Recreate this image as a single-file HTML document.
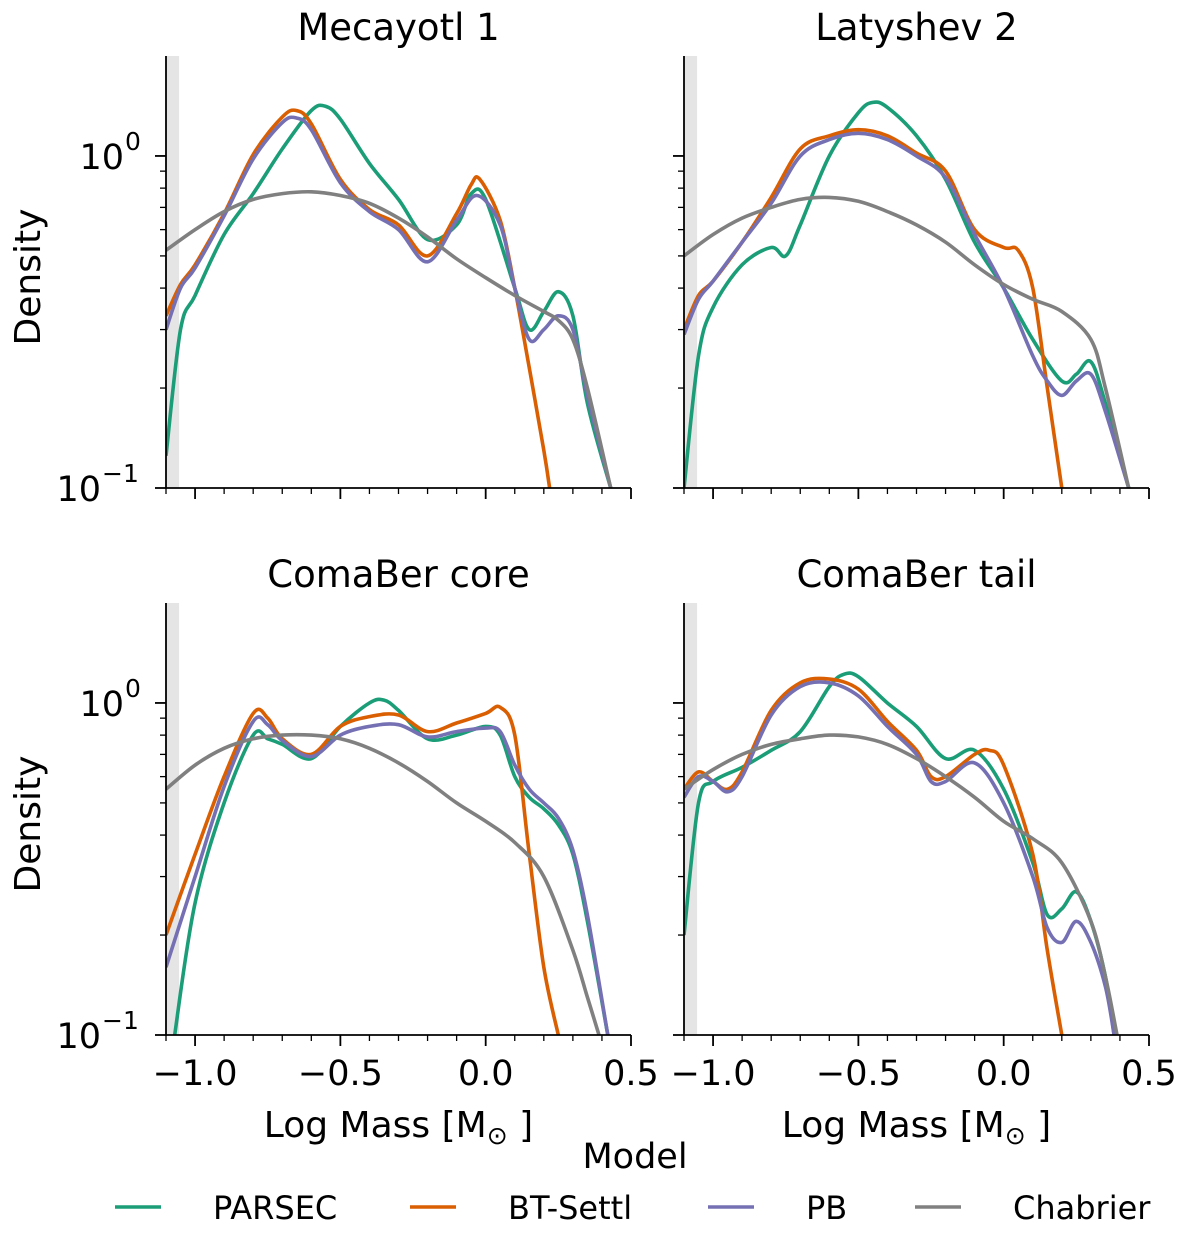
<!DOCTYPE html>
<html><head><meta charset="utf-8"><style>
body{margin:0;background:#fff}
svg text{font-family:"DejaVu Sans","Liberation Sans",sans-serif;fill:#000}
</style></head><body>
<svg id="fig" width="1200" height="1228" viewBox="0 0 1200 1228" xmlns="http://www.w3.org/2000/svg"></svg>
<script>
const panelTitles = ["Mecayotl 1","Latyshev 2","ComaBer core","ComaBer tail"];
const seriesNames = ["PARSEC","BT-Settl","PB","Chabrier"];
const seriesColors = ["#1b9e77","#d95f02","#7570b3","#808080"];
const xTickValues = [-1.0,-0.5,0.0,0.5];
const xTickLabels = ["\u22121.0","\u22120.5","0.0","0.5"];
// panel 0: Mecayotl 1
const p0x_parsec = [-1.1,-1.05,-1.0,-0.9,-0.8,-0.7,-0.6,-0.55,-0.5,-0.4,-0.3,-0.2,-0.1,-0.05,0.0,0.1,0.15,0.2,0.25,0.3,0.35,0.43];
const p0y_parsec = [0.125,0.30,0.38,0.58,0.77,1.05,1.37,1.41,1.29,0.95,0.74,0.56,0.62,0.77,0.74,0.40,0.30,0.34,0.39,0.33,0.18,0.1];
const p0x_bt = [-1.1,-1.05,-1.0,-0.9,-0.8,-0.7,-0.65,-0.6,-0.5,-0.4,-0.3,-0.2,-0.1,-0.05,-0.02,0.05,0.1,0.15,0.2,0.22];
const p0y_bt = [0.33,0.41,0.47,0.67,1.01,1.31,1.37,1.25,0.85,0.69,0.62,0.50,0.67,0.82,0.85,0.64,0.40,0.23,0.13,0.1];
const p0x_pb = [-1.1,-1.05,-1.0,-0.9,-0.8,-0.7,-0.65,-0.6,-0.5,-0.4,-0.3,-0.2,-0.1,-0.03,0.05,0.1,0.15,0.2,0.25,0.3,0.35,0.43];
const p0y_pb = [0.30,0.40,0.46,0.66,0.98,1.26,1.30,1.20,0.83,0.68,0.60,0.48,0.64,0.76,0.62,0.40,0.28,0.30,0.33,0.30,0.19,0.1];
const p0x_ch = [-1.1,-1.0,-0.9,-0.8,-0.7,-0.6,-0.5,-0.4,-0.3,-0.2,-0.1,0.0,0.1,0.2,0.25,0.3,0.35,0.43];
const p0y_ch = [0.52,0.60,0.68,0.74,0.77,0.78,0.76,0.72,0.65,0.57,0.49,0.43,0.38,0.34,0.32,0.28,0.20,0.1];
// panel 1: Latyshev 2
const p1x_parsec = [-1.1,-1.05,-1.0,-0.9,-0.8,-0.75,-0.7,-0.6,-0.5,-0.45,-0.4,-0.3,-0.2,-0.1,0.0,0.1,0.2,0.25,0.3,0.35,0.43];
const p1y_parsec = [0.1,0.25,0.35,0.47,0.53,0.50,0.62,1.0,1.35,1.45,1.40,1.15,0.85,0.55,0.40,0.28,0.21,0.22,0.24,0.18,0.1];
const p1x_bt = [-1.1,-1.05,-1.0,-0.9,-0.8,-0.7,-0.6,-0.5,-0.4,-0.3,-0.2,-0.1,0.0,0.05,0.1,0.15,0.2];
const p1y_bt = [0.30,0.38,0.42,0.55,0.75,1.05,1.15,1.20,1.15,1.02,0.90,0.60,0.53,0.52,0.40,0.2,0.1];
const p1x_pb = [-1.1,-1.05,-1.0,-0.9,-0.8,-0.7,-0.6,-0.5,-0.4,-0.3,-0.2,-0.1,0.0,0.1,0.15,0.2,0.25,0.3,0.35,0.43];
const p1y_pb = [0.29,0.37,0.42,0.55,0.72,1.0,1.12,1.17,1.12,1.0,0.86,0.58,0.40,0.25,0.21,0.19,0.21,0.22,0.17,0.1];
const p1x_ch = [-1.1,-1.0,-0.9,-0.8,-0.7,-0.6,-0.5,-0.4,-0.3,-0.2,-0.1,0.0,0.1,0.2,0.3,0.35,0.43];
const p1y_ch = [0.50,0.58,0.65,0.70,0.74,0.75,0.73,0.68,0.62,0.55,0.47,0.41,0.37,0.34,0.28,0.20,0.1];
// panel 2: ComaBer core
const p2x_parsec = [-1.1,-1.07,-1.0,-0.9,-0.8,-0.75,-0.7,-0.6,-0.5,-0.4,-0.35,-0.3,-0.2,-0.1,0.0,0.05,0.1,0.15,0.2,0.25,0.3,0.35,0.42];
const p2y_parsec = [0.06,0.1,0.25,0.5,0.80,0.78,0.75,0.68,0.85,1.0,1.02,0.95,0.78,0.80,0.85,0.80,0.60,0.52,0.48,0.43,0.35,0.22,0.1];
const p2x_bt = [-1.1,-1.0,-0.9,-0.8,-0.75,-0.7,-0.6,-0.5,-0.4,-0.3,-0.2,-0.1,0.0,0.05,0.1,0.15,0.2,0.25];
const p2y_bt = [0.2,0.35,0.60,0.93,0.90,0.78,0.70,0.85,0.91,0.92,0.82,0.87,0.93,0.97,0.80,0.35,0.16,0.1];
const p2x_pb = [-1.1,-1.0,-0.9,-0.8,-0.75,-0.7,-0.6,-0.5,-0.4,-0.3,-0.2,-0.1,0.0,0.05,0.1,0.15,0.2,0.25,0.3,0.35,0.42];
const p2y_pb = [0.16,0.30,0.56,0.88,0.86,0.77,0.69,0.80,0.85,0.86,0.79,0.82,0.84,0.82,0.65,0.55,0.50,0.45,0.36,0.23,0.1];
const p2x_ch = [-1.1,-1.0,-0.9,-0.8,-0.7,-0.6,-0.5,-0.4,-0.3,-0.2,-0.1,0.0,0.1,0.2,0.3,0.35,0.39];
const p2y_ch = [0.55,0.65,0.73,0.78,0.80,0.80,0.78,0.73,0.66,0.58,0.50,0.44,0.38,0.30,0.18,0.13,0.1];
// panel 3: ComaBer tail
const p3x_parsec = [-1.1,-1.05,-1.0,-0.9,-0.8,-0.7,-0.6,-0.55,-0.5,-0.4,-0.3,-0.2,-0.1,0.0,0.1,0.15,0.2,0.25,0.3,0.35,0.38];
const p3y_parsec = [0.2,0.5,0.58,0.64,0.72,0.82,1.12,1.22,1.2,1.0,0.85,0.68,0.72,0.55,0.33,0.23,0.24,0.27,0.22,0.15,0.1];
const p3x_bt = [-1.1,-1.05,-1.0,-0.95,-0.9,-0.8,-0.7,-0.6,-0.5,-0.4,-0.3,-0.25,-0.2,-0.1,-0.05,0.0,0.1,0.15,0.2];
const p3y_bt = [0.55,0.62,0.58,0.55,0.62,0.95,1.15,1.18,1.1,0.88,0.72,0.60,0.60,0.70,0.72,0.65,0.35,0.18,0.1];
const p3x_pb = [-1.1,-1.05,-1.0,-0.95,-0.9,-0.8,-0.7,-0.6,-0.5,-0.4,-0.3,-0.25,-0.2,-0.1,0.0,0.1,0.15,0.2,0.25,0.3,0.35,0.38];
const p3y_pb = [0.52,0.6,0.58,0.54,0.6,0.92,1.12,1.15,1.05,0.85,0.70,0.58,0.58,0.66,0.50,0.30,0.21,0.19,0.22,0.19,0.14,0.1];
const p3x_ch = [-1.1,-1.0,-0.9,-0.8,-0.7,-0.6,-0.5,-0.4,-0.3,-0.2,-0.1,0.0,0.1,0.2,0.3,0.35,0.39];
const p3y_ch = [0.55,0.63,0.70,0.75,0.78,0.80,0.79,0.75,0.68,0.60,0.52,0.44,0.39,0.33,0.22,0.15,0.1];

const panelSeries = [
 [[p0x_parsec,p0y_parsec],[p0x_bt,p0y_bt],[p0x_pb,p0y_pb],[p0x_ch,p0y_ch]],
 [[p1x_parsec,p1y_parsec],[p1x_bt,p1y_bt],[p1x_pb,p1y_pb],[p1x_ch,p1y_ch]],
 [[p2x_parsec,p2y_parsec],[p2x_bt,p2y_bt],[p2x_pb,p2y_pb],[p2x_ch,p2y_ch]],
 [[p3x_parsec,p3y_parsec],[p3x_bt,p3y_bt],[p3x_pb,p3y_pb],[p3x_ch,p3y_ch]]
];

const NS="http://www.w3.org/2000/svg";
const svg=document.getElementById('fig');
function mk(tag,attrs,parent){const e=document.createElementNS(NS,tag);for(const k in attrs)e.setAttribute(k,attrs[k]);(parent||svg).appendChild(e);return e;}
const XMIN=-1.1,XMAX=0.5,YMIN=0.1,YMAX=2.0;
const boxes=[{l:166,r:631,t:56,b:488},{l:684,r:1149,t:56,b:488},{l:166,r:631,t:603,b:1035},{l:684,r:1149,t:603,b:1035}];

boxes.forEach((B,pi)=>{
  const g=mk('g',{});
  
  
  const sx=v=>B.l+(v-XMIN)/(XMAX-XMIN)*(B.r-B.l);
  const sy=v=>B.b-(Math.log10(v)-Math.log10(YMIN))/(Math.log10(YMAX)-Math.log10(YMIN))*(B.b-B.t);
  const cid='clip'+pi;
  const cp=mk('clipPath',{id:cid},g);mk('rect',{x:B.l,y:B.t,width:B.r-B.l,height:B.b-B.t},cp);
  const band=mk('rect',{x:sx(-1.1),y:B.t,width:sx(-1.055)-sx(-1.1),height:B.b-B.t,fill:'#e5e5e5'},g);
  
  
  panelSeries[pi].forEach((s,si)=>{
    const xs=s[0],ys=s[1];
    const P=xs.map((x,i)=>[sx(x),sy(ys[i])]);
    let d='M'+P[0][0].toFixed(1)+','+P[0][1].toFixed(1);
    for(let i=0;i<P.length-1;i++){
      const p0=P[Math.max(0,i-1)],p1=P[i],p2=P[i+1],p3=P[Math.min(P.length-1,i+2)];
      const c1=[p1[0]+(p2[0]-p0[0])/6,p1[1]+(p2[1]-p0[1])/6];
      const c2=[p2[0]-(p3[0]-p1[0])/6,p2[1]-(p3[1]-p1[1])/6];
      d+=' C'+c1[0].toFixed(1)+','+c1[1].toFixed(1)+' '+c2[0].toFixed(1)+','+c2[1].toFixed(1)+' '+p2[0].toFixed(1)+','+p2[1].toFixed(1);
    }
    const path=mk('path',{d:d,fill:'none',stroke:seriesColors[si],'stroke-width':3.6,'clip-path':'url(#'+cid+')','stroke-linejoin':'round'},g);
    
    
  });
  mk('line',{x1:B.l,y1:B.t,x2:B.l,y2:B.b+0.8,stroke:'#000','stroke-width':1.8},g);
  mk('line',{x1:B.l-0.8,y1:B.b,x2:B.r,y2:B.b,stroke:'#000','stroke-width':1.8},g);
  for(let k=-11;k<=5;k++){
    const v=k/10, major=(k%5===0);
    const x=sx(v);
    mk('line',{x1:x,y1:B.b,x2:x,y2:B.b+(major?11:6),stroke:'#000','stroke-width':major?1.8:1.3},g);
  }
  if(pi>=2){
    xTickValues.forEach((v,i)=>{
      const t=mk('text',{x:sx(v),y:B.b+50,'font-size':35,'text-anchor':'middle'},g);
      t.textContent=xTickLabels[i];
      
      
    });
    const xl=mk('text',{x:(B.l+B.r)/2,y:B.b+102,'font-size':36,'text-anchor':'middle'},g);
    xl.innerHTML='Log Mass [M<tspan font-size="25" dy="7">\u2299</tspan><tspan dy="-7"> ]</tspan>';
    
    
  }
  [0.1,1].forEach(v=>mk('line',{x1:B.l-11,y1:sy(v),x2:B.l,y2:sy(v),stroke:'#000','stroke-width':1.8},g));
  [0.2,0.3,0.4,0.5,0.6,0.7,0.8,0.9].forEach(v=>mk('line',{x1:B.l-6,y1:sy(v),x2:B.l,y2:sy(v),stroke:'#000','stroke-width':1.3},g));
  if(pi%2===0){
    [[1,'0',42],[0.1,'\u22121',65]].forEach(([v,e,off])=>{
      const t=mk('text',{x:B.l-off,y:sy(v)+13,'font-size':35,'text-anchor':'end'},g);
      t.textContent='10';
      
      
      const sup=mk('text',{x:B.l-off+1,y:sy(v)-6,'font-size':25,'text-anchor':'start'},g);
      sup.textContent=e;
    });
    const yl=mk('text',{x:0,y:0,'font-size':36,'text-anchor':'middle',transform:'translate(40,'+((B.t+B.b)/2+5)+') rotate(-90)'},g);
    yl.textContent='Density';
    
    
  }
  const tt=mk('text',{x:(B.l+B.r)/2,y:B.t-16,'font-size':37,'text-anchor':'middle'},g);
  tt.textContent=panelTitles[pi];
  
  
});
const lg=mk('g',{});


const lt=mk('text',{x:635,y:1168,'font-size':35,'text-anchor':'middle'},lg);
lt.textContent='Model';


const legX=[115,410,708,915];
seriesNames.forEach((n,i)=>{
  const e=mk('g',{},lg);
  
  
  mk('line',{x1:legX[i],y1:1207,x2:legX[i]+46,y2:1207,stroke:seriesColors[i],'stroke-width':3.6},e);
  const t=mk('text',{x:legX[i]+98,y:1219,'font-size':32},e);
  t.textContent=n;
});
</script>
</body></html>
